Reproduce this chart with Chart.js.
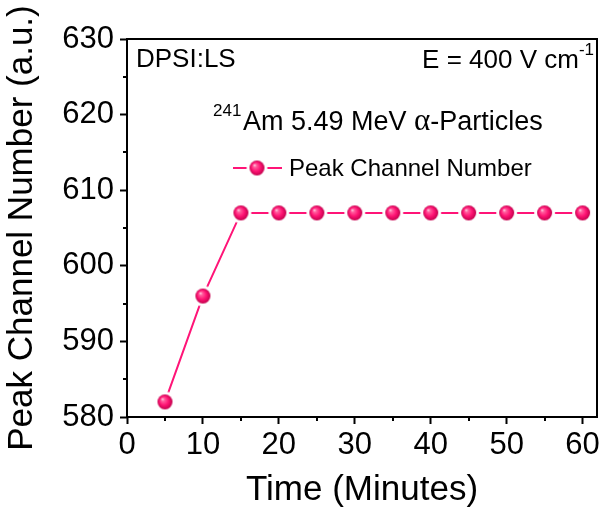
<!DOCTYPE html>
<html>
<head>
<meta charset="utf-8">
<script src="https://cdn.jsdelivr.net/npm/chart.js@4/dist/chart.umd.min.js"></script>
<style>
  body { margin: 0; background: #fff; }
  canvas { display: block; }
</style>
</head>
<body>
<canvas id="myChart" width="603" height="512"></canvas>
<script>
// Datos
const tiempos = [5, 10, 15, 20, 25, 30, 35, 40, 45, 50, 55, 60];
const canalPico = [582, 596, 607, 607, 607, 607, 607, 607, 607, 607, 607, 607];
const xTicks = [0, 10, 20, 30, 40, 50, 60];
const yTicks = [580, 590, 600, 610, 620, 630];
const xMinor = [5, 15, 25, 35, 45, 55];
const yMinor = [585, 595, 605, 615, 625];

const ROSA = "#ff1477";
const FONT = "'Liberation Sans', Arial, sans-serif";

// Esfera con brillo, con anillo blanco para cortar la linea
function crearEsfera(r, anillo) {
    const size = Math.ceil((r + anillo) * 2) + 2;
    const c = document.createElement("canvas");
    c.width = size;
    c.height = size;
    const g = c.getContext("2d");
    const m = size / 2;
    if (anillo > 0) {
        g.fillStyle = "#fff";
        g.beginPath();
        g.arc(m, m, r + anillo, 0, Math.PI * 2);
        g.fill();
    }
    const grad = g.createRadialGradient(m - r * 0.35, m - r * 0.4, 0, m, m, r);
    grad.addColorStop(0, "#ffe6f0");
    grad.addColorStop(0.22, "#ff5f9e");
    grad.addColorStop(0.6, "#ff1474");
    grad.addColorStop(1, "#c2004c");
    g.fillStyle = grad;
    g.beginPath();
    g.arc(m, m, r, 0, Math.PI * 2);
    g.fill();
    return c;
}

const esfera = crearEsfera(7.5, 3);

// Marco, ticks menores, leyenda y textos
const extras = {
    id: "extras",
    afterDraw(chart) {
        const { ctx, chartArea: a, scales } = chart;
        ctx.save();

        // ticks menores
        ctx.strokeStyle = "#000";
        ctx.lineWidth = 2;
        ctx.beginPath();
        xMinor.forEach((v) => {
            const px = Math.round(scales.x.getPixelForValue(v));
            ctx.moveTo(px, a.bottom);
            ctx.lineTo(px, a.bottom + 4);
        });
        yMinor.forEach((v) => {
            const py = Math.round(scales.y.getPixelForValue(v));
            ctx.moveTo(a.left, py);
            ctx.lineTo(a.left - 4, py);
        });
        ctx.stroke();

        // marco
        ctx.strokeRect(a.left, a.top, a.right - a.left, a.bottom - a.top);

        ctx.fillStyle = "#000";
        ctx.textBaseline = "alphabetic";

        // DPSI:LS
        ctx.font = "26px " + FONT;
        ctx.textAlign = "left";
        ctx.fillText("DPSI:LS", 136, 67);

        // E = 400 V cm-1
        ctx.font = "17px " + FONT;
        const supW = ctx.measureText("-1").width;
        ctx.textAlign = "right";
        ctx.fillText("-1", 594, 55);
        ctx.font = "26px " + FONT;
        ctx.fillText("E = 400 V cm", 594 - supW, 68);

        // 241Am 5.49 MeV α-Particles
        ctx.textAlign = "left";
        let x = 213;
        ctx.font = "17px " + FONT;
        ctx.fillText("241", x, 116);
        x = 243;
        ctx.font = "27px " + FONT;
        ctx.fillText("Am 5.49 MeV ", x, 130);
        x += ctx.measureText("Am 5.49 MeV ").width;
        ctx.font = "31px 'Liberation Serif', serif";
        ctx.fillText("\u03b1", x, 130);
        x += ctx.measureText("\u03b1").width;
        ctx.font = "27px " + FONT;
        ctx.fillText("-Particles", x, 130);

        // leyenda
        const ly = 168;
        ctx.strokeStyle = ROSA;
        ctx.lineWidth = 2;
        ctx.beginPath();
        ctx.moveTo(233, ly);
        ctx.lineTo(282, ly);
        ctx.stroke();
        ctx.drawImage(esfera, 257 - esfera.width / 2, ly - esfera.height / 2);
        ctx.fillStyle = "#000";
        ctx.font = "24px " + FONT;
        ctx.fillText(chart.data.datasets[0].label, 289, 176);

        ctx.restore();
    },
};

const ctx = document.getElementById("myChart");
const myChart = new Chart(ctx, {
    type: "line",
    data: {
        datasets: [
            {
                label: "Peak Channel Number",
                data: tiempos.map((t, i) => ({ x: t, y: canalPico[i] })),
                borderColor: ROSA,
                borderWidth: 2,
                pointStyle: esfera,
                pointRadius: 10,
                tension: 0,
                fill: false,
            },
        ],
    },
    options: {
        responsive: false,
        animation: false,
        layout: { autoPadding: false, padding: { top: 39, right: 6, left: 0, bottom: 0 } },
        plugins: {
            legend: { display: false },
            tooltip: { enabled: false },
        },
        scales: {
            x: {
                type: "linear",
                min: 0,
                max: 61.9,
                afterBuildTicks: (s) => { s.ticks = xTicks.map((v) => ({ value: v })); },
                afterFit: (s) => { s.height = 95; },
                border: { display: false },
                grid: { drawOnChartArea: false, tickLength: 7, tickWidth: 2, tickColor: "#000" },
                ticks: {
                    color: "#000",
                    padding: 3,
                    maxRotation: 0,
                    font: { family: FONT, size: 31 },
                },
                title: {
                    display: true,
                    text: "Time (Minutes)",
                    color: "#000",
                    padding: { top: 0, bottom: 1 },
                    font: { family: FONT, size: 35 },
                },
            },
            y: {
                min: 580,
                max: 630,
                afterBuildTicks: (s) => { s.ticks = yTicks.map((v) => ({ value: v })); },
                afterFit: (s) => { s.width = 127; },
                border: { display: false },
                grid: { drawOnChartArea: false, tickLength: 7, tickWidth: 2, tickColor: "#000" },
                ticks: {
                    color: "#000",
                    padding: 6,
                    font: { family: FONT, size: 31 },
                },
                title: {
                    display: true,
                    text: "Peak Channel Number (a.u.)",
                    color: "#000",
                    padding: { top: 1, bottom: 0 },
                    font: { family: FONT, size: 35 },
                },
            },
        },
    },
    plugins: [extras],
});
</script>
</body>
</html>
